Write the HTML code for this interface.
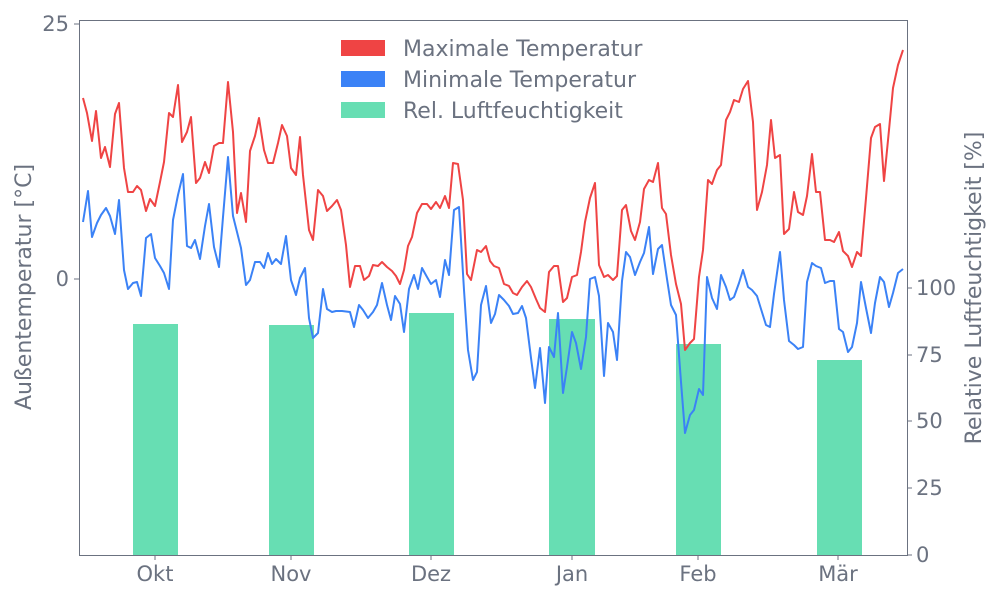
<!DOCTYPE html>
<html><head><meta charset="utf-8"><style>
body{margin:0;background:#fff}
svg{display:block;font-family:"DejaVu Sans","Liberation Sans",sans-serif}
</style></head><body>
<svg width="1000" height="600" viewBox="0 0 1000 600" xmlns="http://www.w3.org/2000/svg">
<rect width="1000" height="600" fill="#fff"/>
<g fill="#34d399" fill-opacity="0.75">
<rect x="133" y="324" width="45" height="231"/>
<rect x="269" y="325" width="45" height="230"/>
<rect x="409" y="313" width="45" height="242"/>
<rect x="549" y="319" width="46" height="236"/>
<rect x="676" y="344" width="45" height="211"/>
<rect x="817" y="360" width="45" height="195"/>
</g>
<polyline fill="none" stroke="#ef4444" stroke-width="2" stroke-linejoin="round" points="83,98 87,113 92,141 96,111 101,158 105,147 110,167 115,114 119,103 124,168 128,192 133,192 137,186 141,190 146,211 150,199 155,206 160,182 164,162 169,113 173,117 178,85 182,142 187,132 191,117 196,183 200,178 205,162 209,173 214,146 219,143 223,143 228,82 233,132 237,213 241,193 246,222 250,151 255,136 259,118 264,150 268,163 273,163 278,143 282,125 287,136 291,168 296,175 300,137 303,175 309,230 313,240 318,190 323,196 327,211 332,206 337,200 341,210 346,245 350,287 355,266 360,266 364,280 369,276 373,265 378,266 382,262 387,267 392,271 396,276 400,284 404,270 408,246 412,237 417,213 422,204 427,204 431,209 436,202 440,208 445,196 449,208 453,163 458,164 463,200 467,274 471,280 477,250 481,252 486,246 490,261 494,266 499,268 504,284 509,286 513,293 517,295 522,287 527,281 531,287 536,299 540,308 545,312 549,272 554,266 558,266 563,302 567,298 572,277 577,275 581,252 585,222 590,198 595,183 599,265 604,277 608,275 613,280 617,276 622,210 626,205 631,231 635,240 640,222 644,189 649,180 653,182 658,163 662,208 666,214 671,255 676,284 681,304 685,350 690,343 694,339 699,277 703,250 708,180 712,184 717,170 721,165 726,120 730,112 734,100 739,102 743,89 748,81 753,122 757,210 762,192 767,165 771,120 775,158 780,155 784,234 789,229 794,192 798,212 803,215 807,196 812,154 816,192 820,192 825,240 830,240 834,242 839,232 843,251 848,256 852,267 857,252 861,256 866,198 871,138 875,127 880,124 884,181 889,130 893,88 898,65 903,50"/>
<polyline fill="none" stroke="#3b82f6" stroke-width="2" stroke-linejoin="round" points="83,222 88,191 92,237 97,223 101,215 106,208 110,216 115,234 119,200 124,270 128,289 133,283 137,282 141,296 146,238 151,234 155,258 160,266 164,273 169,289 173,220 178,195 183,174 187,246 191,248 195,240 200,259 205,226 209,204 214,247 219,267 223,217 228,157 233,216 237,232 241,248 246,285 250,280 255,262 260,262 264,268 268,253 272,264 276,259 281,264 286,236 291,280 296,295 300,278 305,268 309,318 313,338 318,333 323,289 327,309 332,312 336,311 342,311 350,312 354,327 359,305 363,310 368,318 373,312 377,305 382,283 387,305 391,320 395,296 400,304 404,332 409,289 414,275 418,289 422,268 427,277 431,284 436,280 440,297 445,260 449,275 454,210 459,207 464,290 468,350 473,380 477,372 481,305 486,286 491,323 495,314 499,295 504,300 509,306 513,314 518,313 522,306 526,318 531,358 535,388 540,348 545,403 549,347 554,357 558,313 563,393 567,367 572,332 576,343 581,369 586,337 590,279 595,277 599,296 604,376 608,323 613,332 617,360 622,281 626,252 630,257 635,275 640,262 644,253 649,227 653,274 658,249 662,245 667,279 671,305 676,315 681,382 685,433 690,415 694,410 699,389 703,395 707,277 712,298 717,309 721,275 726,287 730,300 734,297 739,283 743,270 748,287 752,290 757,296 761,309 766,325 770,327 774,294 780,252 784,300 789,341 794,345 798,349 803,347 807,282 812,263 816,266 821,268 825,283 830,281 834,281 839,329 843,332 848,352 852,347 857,323 861,282 866,308 871,333 875,303 880,277 884,282 889,307 893,293 898,273 903,269"/>
<rect x="79.5" y="20.5" width="828" height="535" fill="none" stroke="#6b7280" stroke-width="1"/>
<g stroke="#6b7280" stroke-width="1">
<line x1="74" y1="24" x2="79" y2="24"/><line x1="74" y1="279" x2="79" y2="279"/>
<line x1="907" y1="555" x2="912" y2="555"/><line x1="907" y1="488" x2="912" y2="488"/><line x1="907" y1="421" x2="912" y2="421"/><line x1="907" y1="355" x2="912" y2="355"/><line x1="907" y1="288" x2="912" y2="288"/>
<line x1="155" y1="555" x2="155" y2="560"/><line x1="291" y1="555" x2="291" y2="560"/><line x1="431" y1="555" x2="431" y2="560"/><line x1="572" y1="555" x2="572" y2="560"/><line x1="698" y1="555" x2="698" y2="560"/><line x1="838" y1="555" x2="838" y2="560"/>
</g>
<g fill="#6b7280" font-size="21">
<text x="69" y="31" text-anchor="end">25</text>
<text x="69" y="286" text-anchor="end">0</text>
<text x="916" y="562">0</text><text x="916" y="495">25</text><text x="916" y="428">50</text><text x="916" y="362">75</text><text x="916" y="295">100</text>
<g text-anchor="middle">
<text x="155" y="581">Okt</text><text x="291" y="581">Nov</text><text x="431" y="581">Dez</text><text x="572" y="581">Jan</text><text x="698" y="581">Feb</text><text x="838" y="581">Mär</text>
</g>
</g>
<g fill="#6b7280" font-size="22">
<text transform="translate(31,287) rotate(-90)" text-anchor="middle">Außentemperatur [°C]</text>
<text transform="translate(981,288) rotate(-90)" text-anchor="middle">Relative Luftfeuchtigkeit [%]</text>
</g>
<rect x="341" y="40" width="44" height="16" fill="#ef4444"/>
<rect x="341" y="71" width="44" height="16" fill="#3b82f6"/>
<rect x="341" y="102" width="44" height="16" fill="#34d399" fill-opacity="0.75"/>
<g fill="#6b7280" font-size="22">
<text x="403" y="56">Maximale Temperatur</text>
<text x="403" y="87">Minimale Temperatur</text>
<text x="403" y="118">Rel. Luftfeuchtigkeit</text>
</g>
</svg>
</body></html>
